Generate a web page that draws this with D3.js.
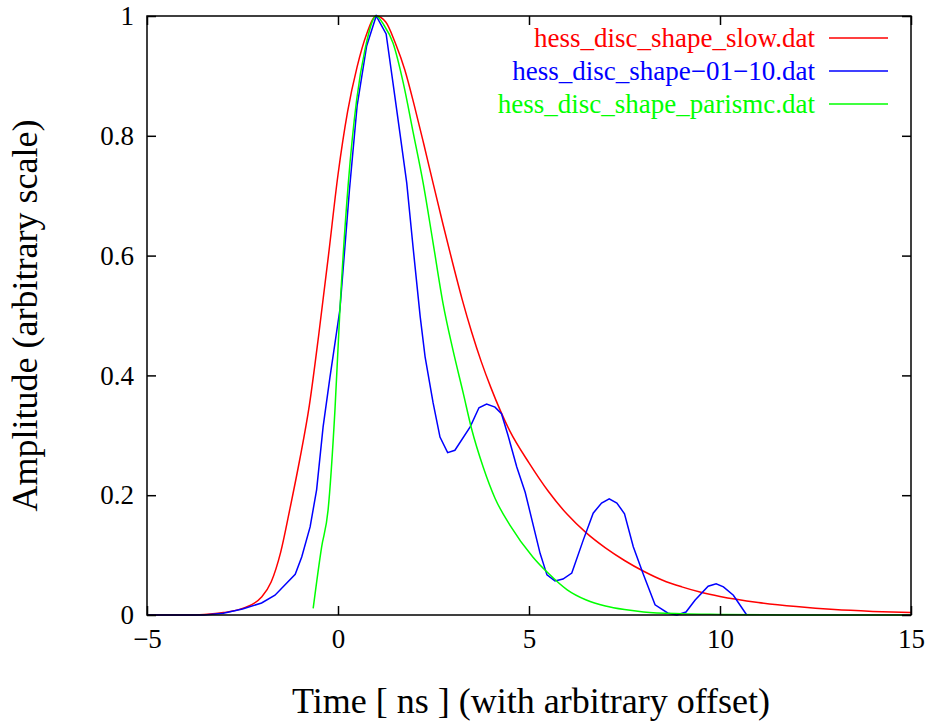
<!DOCTYPE html>
<html>
<head>
<meta charset="utf-8">
<script src="https://cdn.jsdelivr.net/npm/d3@7"></script>
<style>
  body { margin: 0; background: #fff; }
  svg text { font-family: "Liberation Serif", "DejaVu Serif", serif; }
</style>
</head>
<body>
<svg id="chart" width="932" height="722"></svg>
<script>
// data
var slowT = [-5, -4, -3.5, -3, -2.5, -2, -1.75, -1.5, -1.25, -1, -0.75, -0.5, -0.25, 0, 0.25, 0.5, 0.75, 1, 1.25, 1.5, 1.75, 2, 2.25, 2.5, 2.75, 3, 3.25, 3.5, 3.75, 4, 4.5, 5, 5.5, 6, 6.5, 7, 7.5, 8, 8.5, 9, 9.5, 10, 11, 12, 13, 14, 15];
var slowV = [0, 0, 0.001, 0.004, 0.011, 0.03, 0.055, 0.105, 0.18, 0.26, 0.35, 0.47, 0.6, 0.735, 0.84, 0.915, 0.97, 1.0, 0.99, 0.955, 0.91, 0.85, 0.785, 0.718, 0.652, 0.588, 0.527, 0.472, 0.423, 0.38, 0.307, 0.254, 0.207, 0.168, 0.137, 0.112, 0.091, 0.073, 0.058, 0.047, 0.038, 0.031, 0.021, 0.014, 0.009, 0.006, 0.004];

var blueT = [-5, -4, -3.5, -3, -2.5, -2, -1.65, -1.12, -0.95, -0.73, -0.56, -0.39, -0.21, 0.05, 0.3, 0.5, 0.75, 1.0, 1.26, 1.44, 1.62, 1.8, 1.97, 2.15, 2.28, 2.49, 2.67, 2.87, 3.06, 3.46, 3.69, 3.89, 4.11, 4.28, 4.45, 4.68, 4.9, 5.29, 5.47, 5.68, 5.89, 6.12, 6.42, 6.68, 6.9, 7.1, 7.3, 7.5, 7.73, 7.98, 8.3, 8.64, 8.87, 9.11, 9.35, 9.69, 9.9, 10.09, 10.35, 10.7];
var blueV = [0, 0, 0, 0.003, 0.01, 0.02, 0.033, 0.068, 0.097, 0.147, 0.209, 0.314, 0.397, 0.51, 0.71, 0.85, 0.95, 1.0, 0.97, 0.888, 0.805, 0.721, 0.611, 0.499, 0.431, 0.354, 0.297, 0.271, 0.275, 0.314, 0.346, 0.352, 0.347, 0.336, 0.3, 0.247, 0.205, 0.103, 0.067, 0.057, 0.06, 0.07, 0.125, 0.17, 0.187, 0.194, 0.187, 0.169, 0.114, 0.07, 0.017, 0.003, 0, 0.005, 0.025, 0.048, 0.052, 0.047, 0.033, 0];

var parisT = [-0.65, -0.43, -0.26, -0.08, 0.05, 0.27, 0.49, 0.71, 1.0, 1.2, 1.44, 1.71, 1.97, 2.23, 2.49, 2.75, 3.0, 3.28, 3.5, 3.8, 4.11, 4.5, 5.1, 5.5, 6.0, 6.5, 7.0, 7.5, 8.0, 9.0, 10.0, 12.0, 15.0];
var parisV = [0.011, 0.113, 0.175, 0.342, 0.509, 0.721, 0.861, 0.945, 1.0, 0.985, 0.955, 0.888, 0.805, 0.721, 0.621, 0.52, 0.445, 0.37, 0.31, 0.247, 0.195, 0.15, 0.097, 0.07, 0.042, 0.025, 0.015, 0.009, 0.005, 0.002, 0.001, 0, 0];

var xTicks = [-5, 0, 5, 10, 15];
var yTicks = [0, 0.2, 0.4, 0.6, 0.8, 1];

// smooth curves for the two analytic shapes, straight segments for the sampled one
var series = [
    { name: "hess_disc_shape_slow.dat", color: "#ff0000", t: slowT, v: slowV, curve: d3.curveMonotoneX },
    { name: "hess_disc_shape\u221201\u221210.dat", color: "#0000ff", t: blueT, v: blueV, curve: d3.curveLinear },
    { name: "hess_disc_shape_parismc.dat", color: "#00ff00", t: parisT, v: parisV, curve: d3.curveMonotoneX }
];

var plotLeft = 147, plotRight = 911, plotTop = 16, plotBottom = 615;
var svg = d3.select("#chart");

var x = d3.scaleLinear().domain([-5, 15]).range([plotLeft, plotRight]);
var y = d3.scaleLinear().domain([0, 1]).range([plotBottom, plotTop]);

var fmtX = function (d) { return d < 0 ? "\u2212" + Math.abs(d) : String(d); };
var fmtY = function (d) { return String(d); };

// curves
series.forEach(function (s) {
    var pts = s.t.map(function (t, i) { return [t, s.v[i]]; });
    var line = d3.line()
        .curve(s.curve)
        .x(function (d) { return x(d[0]); })
        .y(function (d) { return y(d[1]); });
    svg.append("path")
        .datum(pts)
        .attr("fill", "none")
        .attr("stroke", s.color)
        .attr("stroke-width", 1.5)
        .attr("d", line);
});

// axes, ticks on all four sides pointing inward
var tickLen = 9;
svg.append("g").attr("transform", "translate(0," + plotBottom + ")")
    .call(d3.axisBottom(x).tickValues(xTicks).tickSizeInner(-tickLen).tickSizeOuter(0).tickPadding(14).tickFormat(fmtX));
svg.append("g").attr("transform", "translate(0," + plotTop + ")")
    .call(d3.axisTop(x).tickValues(xTicks).tickSizeInner(-tickLen).tickSizeOuter(0).tickFormat(""));
svg.append("g").attr("transform", "translate(" + plotLeft + ",0)")
    .call(d3.axisLeft(y).tickValues(yTicks).tickSizeInner(-tickLen).tickSizeOuter(0).tickPadding(13).tickFormat(fmtY));
svg.append("g").attr("transform", "translate(" + plotRight + ",0)")
    .call(d3.axisRight(y).tickValues(yTicks).tickSizeInner(-tickLen).tickSizeOuter(0).tickFormat(""));

svg.selectAll(".domain").remove();
svg.selectAll(".tick line").attr("stroke", "#000").attr("stroke-width", 1.5);
svg.selectAll(".tick text")
    .attr("fill", "#000")
    .style("font-family", "'Liberation Serif', serif")
    .style("font-size", "27px");

svg.append("rect")
    .attr("x", plotLeft).attr("y", plotTop)
    .attr("width", plotRight - plotLeft).attr("height", plotBottom - plotTop)
    .attr("fill", "none").attr("stroke", "#000").attr("stroke-width", 1.5);

// legend
var legend = svg.append("g");
series.forEach(function (s, i) {
    var ly = 38 + i * 33;
    legend.append("text")
        .attr("x", 815).attr("y", ly)
        .attr("dy", "0.33em")
        .attr("text-anchor", "end")
        .attr("fill", s.color)
        .style("font-size", "27px")
        .text(s.name);
    legend.append("line")
        .attr("x1", 829).attr("x2", 888)
        .attr("y1", ly).attr("y2", ly)
        .attr("stroke", s.color).attr("stroke-width", 1.5);
});

// axis titles
svg.append("text")
    .attr("x", (plotLeft + plotRight) / 2 + 2).attr("y", 713)
    .attr("text-anchor", "middle")
    .style("font-size", "36px")
    .text("Time [ ns ] (with arbitrary offset)");

svg.append("text")
    .attr("transform", "translate(37," + (plotTop + plotBottom) / 2 + ") rotate(-90)")
    .attr("text-anchor", "middle")
    .style("font-size", "36px")
    .text("Amplitude (arbitrary scale)");
</script>
</body>
</html>
